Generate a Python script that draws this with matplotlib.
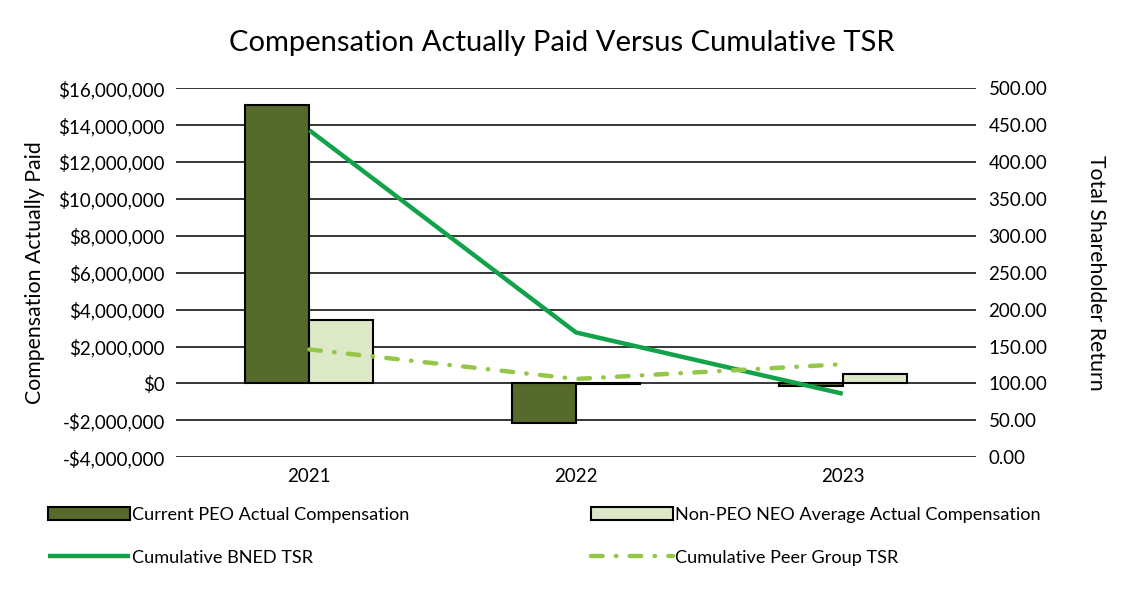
import numpy as np
import matplotlib.pyplot as plt
from matplotlib.ticker import FuncFormatter

plt.rcParams['font.family'] = ['Lato', 'DejaVu Sans']

# data
years = ['2021', '2022', '2023']
peo_cap = [15_080_000, -2_170_000, -120_000]
neo_cap = [3_420_000, -40_000, 490_000]
bned_tsr = [443, 169, 86]
peer_tsr = [146, 106, 126]

x = np.arange(len(years))
w = 0.24

fig = plt.figure(figsize=(11.24, 6), dpi=100)
ax = fig.add_axes([0.1566, 0.238, 0.7118, 0.615])
ax2 = ax.twinx()

ax.bar(x - w / 2, peo_cap, w, color='#566a2b', edgecolor='black', linewidth=1.5,
       label='Current PEO Actual Compensation', zorder=3)
ax.bar(x + w / 2, neo_cap, w, color='#dde8c6', edgecolor='black', linewidth=1.5,
       label='Non-PEO NEO Average Actual Compensation', zorder=3)

ax2.plot(x, bned_tsr, color='#12a24a', linewidth=3.2, solid_capstyle='butt',
         label='Cumulative BNED TSR')
ax2.plot(x, peer_tsr, color='#94c748', linewidth=3.2, dashes=[2.6, 3.0, 0.1, 3.0],
         dash_capstyle='round', label='Cumulative Peer Group TSR')

ax.set_xlim(-0.5, 2.5)
ax.set_ylim(-4_000_000, 16_000_000)
ax.set_yticks(np.arange(-4_000_000, 16_000_001, 2_000_000))
ax2.set_ylim(0, 500)
ax2.set_yticks(np.arange(0, 501, 50))

def money(v, pos):
    if v < 0:
        return '-${:,.0f}'.format(-v)
    return '${:,.0f}'.format(v)

ax.yaxis.set_major_formatter(FuncFormatter(money))
ax2.yaxis.set_major_formatter(FuncFormatter(lambda v, p: '{:.2f}'.format(v)))

ax.set_xticks(x)
ax.set_xticklabels(years)
ax.tick_params(axis='both', length=0, labelsize=13.5, pad=8)
ax2.tick_params(axis='y', length=0, labelsize=13.5, pad=9)

ax.grid(axis='y', color='black', linewidth=1.1, zorder=0)
ax.set_axisbelow(True)
for a in (ax, ax2):
    for s in a.spines.values():
        s.set_visible(False)

ax.set_ylabel('Compensation Actually Paid', fontsize=15.3, labelpad=10)
ax2.set_ylabel('Total Shareholder Return', fontsize=15.3, rotation=270, labelpad=42)

fig.text(0.5, 0.928, 'Compensation Actually Paid Versus Cumulative TSR',
         ha='center', va='center', fontsize=21)

h1, l1 = ax.get_legend_handles_labels()
h2, l2 = ax2.get_legend_handles_labels()
handles = [h1[0], h2[0], h1[1], h2[1]]
labels = [l1[0], l2[0], l1[1], l2[1]]
fig.legend(handles, labels, loc='upper left', bbox_to_anchor=(0.028, 0.183),
           ncol=2, frameon=False, fontsize=13.1, handlelength=4.5,
           handletextpad=0.1, columnspacing=10.0, labelspacing=1.5)

fig.savefig('out.png', dpi=100)
